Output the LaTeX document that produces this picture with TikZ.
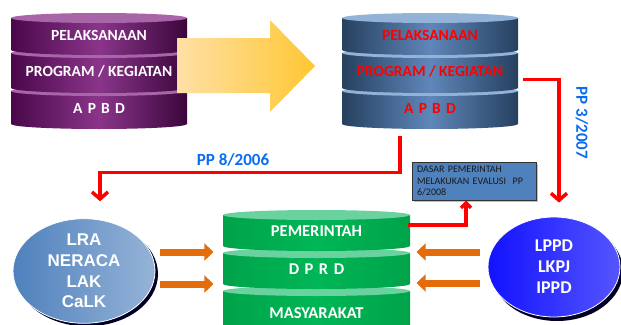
\documentclass[tikz,border=0pt]{standalone}
\usepackage{fontspec}
\setmainfont{Carlito}
\newfontfamily\ovalfont{Liberation Sans}
\usetikzlibrary{arrows.meta,positioning,shapes.geometric,shadows,calc}

\definecolor{purpleD}{HTML}{4A084A}
\definecolor{purpleM}{HTML}{8A358A}
\definecolor{purpleT}{HTML}{A866A8}
\definecolor{navyD}{HTML}{26405F}
\definecolor{navyM}{HTML}{5F87BA}
\definecolor{navyT}{HTML}{93B2D8}
\definecolor{grnD}{HTML}{00A34A}
\definecolor{grnM}{HTML}{00B656}
\definecolor{grnT}{HTML}{6AD29E}
\definecolor{ppblue}{HTML}{0A6CF0}
\definecolor{orng}{HTML}{E46C0A}
\definecolor{steel}{HTML}{4F81BD}
\definecolor{steelL}{HTML}{95B3D7}
\definecolor{lpblue}{HTML}{1212FF}
\definecolor{lpblueL}{HTML}{5555FF}

% one disc of a stacked cylinder: name, x centre, y top, y bottom, half width, style prefix, text
\newcommand{\dbdisc}[7]{%
  \shade[#6body] (#2-#5,#3) -- (#2-#5,#4)
    arc[start angle=180,end angle=360,x radius=#5pt,y radius=5pt] -- (#2+#5,#3) -- cycle;
  \fill[#6top] (#2,#3) ellipse[x radius=#5pt,y radius=5pt];
  \node[#6text,minimum width={2*#5pt}] (#1) at (#2,{(#3+#4)/2+1}) {#7};
}

\begin{document}
\begin{tikzpicture}[x=1pt,y=-1pt,
    pbody/.style={left color=purpleD,right color=purpleD!80!black,middle color=purpleM},
    ptop/.style={fill=purpleT},
    ptext/.style={inner sep=0pt,text=white,font=\bfseries\fontsize{15.5}{18}\selectfont},
    nbody/.style={left color=navyD,right color=navyD,middle color=navyM},
    ntop/.style={fill=navyT},
    ntext/.style={inner sep=0pt,text=red,font=\bfseries\fontsize{15.5}{18}\selectfont},
    gbody/.style={left color=grnD,right color=grnD,middle color=grnM},
    gtop/.style={fill=grnT},
    gtext/.style={inner sep=0pt,text=white,font=\bfseries\fontsize{16.5}{18}\selectfont},
    bigarrow/.style={left color=yellow!30!orange!35,right color=orange!55!yellow!80},
    redarr/.style={red,line width=3.5pt,-{Straight Barb[length=7pt,width=16pt]}},
    orarr/.style={orng,line width=7pt,-{Triangle[length=9pt,width=17pt]}},
    lbl/.style={text=ppblue,font=\bfseries\fontsize{17}{19}\selectfont},
    oval/.style={ellipse,draw=white,line width=0.8pt,text=white,align=center,inner sep=0pt},
    dasar/.style={draw=black!80,line width=1pt,fill=steel,text=black!90,align=left,
      font=\fontsize{10}{11.5}\selectfont,text width=114pt,inner xsep=5pt,inner ysep=2pt,
      minimum height=38pt,drop shadow={shadow xshift=2pt,shadow yshift=-2pt,fill=black!40,opacity=0.6}}
]
\useasboundingbox (0,0) rectangle (621,324);

% left cylinder
\dbdisc{lapbd}{99}{91}{124}{88}{p}{A\,\,P\,\,B\,\,D}
\dbdisc{lprog}{99}{53}{88}{88}{p}{PROGRAM / KEGIATAN}
\dbdisc{lpel}{99}{18}{50}{88}{p}{PELAKSANAAN}

% big arrow
\shade[bigarrow] (177,38) -- (270,38) -- (270,20) -- (315,66) -- (270,112) -- (270,93) -- (177,93) -- cycle;
\draw[yellow,line width=1.5pt] (177.5,38) -- (177.5,93);

% right cylinder
\dbdisc{rapbd}{430}{91}{124}{88}{n}{A\,\,P\,\,B\,\,D}
\dbdisc{rprog}{430}{53}{88}{88}{n}{PROGRAM / KEGIATAN}
\dbdisc{rpel}{430}{18}{50}{88}{n}{PELAKSANAAN}

% bottom cylinder
\dbdisc{masy}{316.5}{291}{334}{93.5}{g}{MASYARAKAT}
\dbdisc{dprd}{316.5}{253}{284}{93.5}{g}{D\,\,P\,\,R\,\,D}
\dbdisc{pem}{316.5}{215}{246}{93.5}{g}{PEMERINTAH}

% reports
\node[oval,minimum width=142pt,minimum height=102pt,left color=steel,right color=steelL,
  drop shadow={shadow xshift=3pt,shadow yshift=-3pt,fill=black!85!blue,opacity=1},
  font=\ovalfont\bfseries\fontsize{17}{20.7}\selectfont] (lra) at (84,271) {LRA\\NERACA\\LAK\\CaLK};
\node[oval,minimum width=132pt,minimum height=100pt,left color=lpblue,right color=lpblueL,
  drop shadow={shadow xshift=3pt,shadow yshift=-4pt,fill=black!85!blue,opacity=1},
  font=\bfseries\fontsize{18}{21}\selectfont] (lppd) at (554,267) {LPPD\\LKPJ\\IPPD};

\node[dasar] (eval) at (474,181) {DASAR PEMERINTAH\\MELAKUKAN EVALUSI\ \ PP\\6/2008};

% labels
\node[lbl] (pp8) at (233,160) {PP 8/2006};
\node[lbl,rotate=-90] (pp3) at (582,123) {PP 3/2007};

% connectors
\draw[redarr] ([xshift=5pt,yshift=-8pt]rprog.east) -| ([xshift=5pt,yshift=14pt]lppd.north);
\draw[redarr] ([xshift=-30pt,yshift=-27pt]rapbd.center) -- ++(0,37) -| ([xshift=16pt,yshift=17pt]lra.north);
\draw[redarr,-{Straight Barb[length=5pt,width=10pt]}] ([yshift=6.5pt,xshift=-2pt]pem.east) -| ([xshift=-8pt]eval.south);

\draw[orarr] ([xshift=5pt,yshift=19pt]lra.east) -- ++(53,0);
\draw[orarr] ([xshift=5pt,yshift=-13pt]lra.east) -- ++(53,0);
\draw[orarr] ([xshift=-8pt,yshift=15pt]lppd.west) -- ++(-63,0);
\draw[orarr] ([xshift=-8pt,yshift=-16pt]lppd.west) -- ++(-63,0);
\end{tikzpicture}
\end{document}
